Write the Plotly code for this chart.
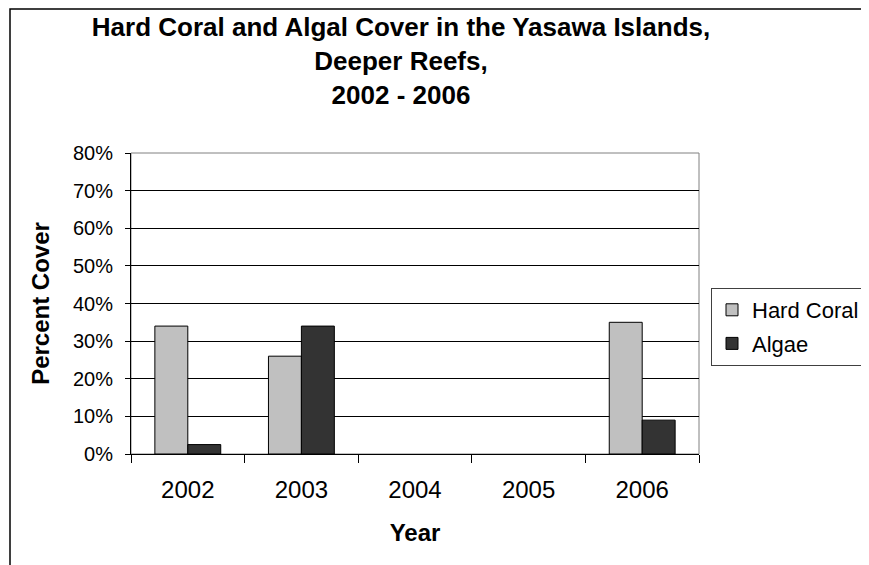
import plotly.graph_objects as go

years = ["2002", "2003", "2004", "2005", "2006"]
hard_coral = [0.34, 0.26, None, None, 0.35]
algae = [0.025, 0.34, None, None, 0.09]
y_ticks = [0, 0.1, 0.2, 0.3, 0.4, 0.5, 0.6, 0.7, 0.8]
y_tick_labels = ["0%", "10%", "20%", "30%", "40%", "50%", "60%", "70%", "80%"]

# page body has an 8px margin, so the figure is placed at (8, 8) on screen
OFF = 8
W, H = 869 - OFF, 565 - OFF
L, R, T, B = 131 - OFF, 869 - 699, 153 - OFF, 565 - 454
pw = W - L - R
ph = H - T - B

FONT = "Liberation Sans, Arial, sans-serif"

fig = go.Figure()
fig.add_trace(go.Bar(x=years, y=hard_coral, name="Hard Coral",
                     marker=dict(color="#C0C0C0", line=dict(color="#000000", width=1)),
                     legendgroup="a"))
fig.add_trace(go.Bar(x=years, y=algae, name="Algae",
                     marker=dict(color="#333333", line=dict(color="#000000", width=1)),
                     legendgroup="b"))

def px_x(sx):
    return (sx - OFF - L) / pw

def px_y(sy):
    return (H - B - (sy - OFF)) / ph

fig.update_layout(
    width=W, height=H,
    margin=dict(l=L, r=R, t=T, b=B, autoexpand=False),
    paper_bgcolor="white", plot_bgcolor="white",
    font=dict(family=FONT, color="black", size=20),
    barmode="group", bargap=0.42, bargroupgap=0,
    title=dict(text="<b>Hard Coral and Algal Cover in the Yasawa Islands,<br>Deeper Reefs,<br>2002 - 2006</b>",
               xref="container", x=(401 - OFF) / W, xanchor="center",
               yref="container", y=1 - 28 / H, yanchor="top",
               font=dict(size=26, family=FONT)),
    xaxis=dict(type="category", showline=True, linecolor="black", linewidth=1,
               ticks="outside", tickson="boundaries", ticklen=8, tickcolor="black",
               showgrid=False, tickfont=dict(size=24), ticklabelstandoff=14,
               title=dict(text="<b>Year</b>", font=dict(size=24), standoff=22)),
    yaxis=dict(range=[0, 0.8], tickvals=y_ticks, ticktext=y_tick_labels,
               showline=True, linecolor="black", linewidth=1,
               ticks="outside", ticklen=5, tickcolor="black",
               showgrid=True, gridcolor="black", gridwidth=1,
               zeroline=False, tickfont=dict(size=20), ticklabelstandoff=8,
               title=dict(text="<b>Percent Cover</b>", font=dict(size=24), standoff=16)),
    legend=dict(x=px_x(711), xanchor="left", y=px_y(288), yanchor="top",
                bordercolor="#404040", borderwidth=1, bgcolor="white",
                font=dict(size=22), traceorder="grouped", tracegroupgap=2,
                itemwidth=30),
    shapes=[
        dict(type="rect", xref="paper", yref="paper", x0=0, x1=1, y0=0, y1=1,
             line=dict(color="#808080", width=1), layer="below"),
        dict(type="rect", xref="paper", yref="paper",
             x0=px_x(10), x1=px_x(900), y0=px_y(600), y1=px_y(OFF + 1),
             line=dict(color="black", width=1.5), layer="below"),
    ],
)

fig.write_html("out.html")
